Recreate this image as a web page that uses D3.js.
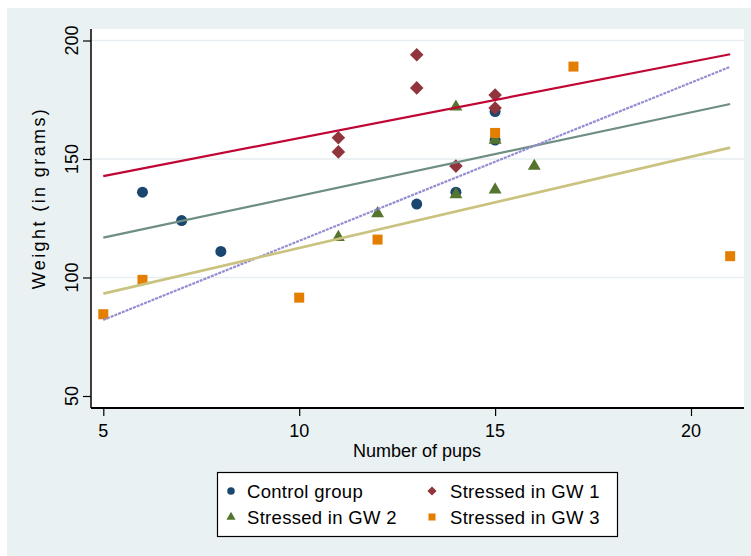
<!DOCTYPE html>
<html>
<head>
<meta charset="utf-8">
<script src="https://cdn.jsdelivr.net/npm/d3@7"></script>
<style>
  html, body { margin: 0; padding: 0; background: #ffffff; }
  svg { display: block; }
  text { font-family: "Liberation Sans", Arial, Helvetica, sans-serif; fill: #000; }
</style>
</head>
<body>
<svg id="chart" width="751" height="556"></svg>
<script>
// Pup weight by litter size, four groups
const controlX = [6, 7, 8, 13, 14, 15, 15];
const controlY = [136, 124, 111, 131, 136, 170, 158];
const gw1X = [11, 11, 13, 13, 14, 15, 15];
const gw1Y = [159, 153, 194, 180, 147, 177, 171.5];
const gw2X = [11, 12, 14, 14, 15, 15, 16];
const gw2Y = [117, 127, 172, 135, 137, 158, 147];
const gw3X = [5, 6, 10, 12, 15, 17, 21];
const gw3Y = [84.5, 99, 91.5, 116, 161, 189, 109];

// Linear fits, drawn over the full range of litter sizes
const fitX = [5, 21];
const controlFit = [116.8, 173.2];
const gw1Fit = [142.8, 194.2];
const gw2Fit = [82.1, 188.9];
const gw3Fit = [93.2, 154.8];

const xTicks = [5, 10, 15, 20];
const yTicks = [50, 100, 150, 200];
const yGrid = [100, 150, 200];
const groupNames = ["Control group", "Stressed in GW 1", "Stressed in GW 2", "Stressed in GW 3"];

const colors = {
  navy: "#1a476f", maroon: "#90353b", forest: "#55752f", orange: "#e37e00",
  teal: "#6e8e84", cranberry: "#c10534", lavender: "#938dd2", khaki: "#cac27e"
};

const svg = d3.select("#chart");

// Outer graph region
svg.append("rect").attr("x", 7).attr("y", 8).attr("width", 744).attr("height", 548)
  .attr("fill", "#eaf1f3");

const plot = { left: 91, right: 744, top: 29, bottom: 408 };
svg.append("rect").attr("x", plot.left).attr("y", plot.top)
  .attr("width", plot.right - plot.left).attr("height", plot.bottom - plot.top)
  .attr("fill", "#ffffff");

const x = d3.scaleLinear().domain([5, 20]).range([103.3, 691]);
const y = d3.scaleLinear().domain([50, 200]).range([396, 40.5]);

// Grid lines
svg.append("g").selectAll("line").data(yGrid).join("line")
  .attr("x1", plot.left).attr("x2", plot.right)
  .attr("y1", d => y(d)).attr("y2", d => y(d))
  .attr("stroke", "#e6eef1").attr("stroke-width", 1.5);

// Axes
const yAxis = svg.append("g").attr("transform", `translate(${plot.left},0)`)
  .call(d3.axisLeft(y).tickValues(yTicks).tickSize(8).tickFormat(""));
yAxis.select(".domain").attr("d", `M0,${plot.top}V${plot.bottom}`).attr("stroke-width", 1.5);
yAxis.selectAll(".tick line").attr("stroke-width", 1.2);

const xAxis = svg.append("g").attr("transform", `translate(0,${plot.bottom})`)
  .call(d3.axisBottom(x).tickValues(xTicks).tickSize(8).tickFormat(""));
xAxis.select(".domain").attr("d", `M${plot.left},0H${plot.right}`).attr("stroke-width", 1.8);
xAxis.selectAll(".tick line").attr("stroke-width", 1.2);

// Tick labels
svg.append("g").selectAll("text").data(yTicks).join("text")
  .attr("transform", d => `translate(78,${y(d)}) rotate(-90)`)
  .attr("text-anchor", "middle").attr("font-size", 18)
  .text(d => d);

svg.append("g").selectAll("text").data(xTicks).join("text")
  .attr("x", d => x(d)).attr("y", 437)
  .attr("text-anchor", "middle").attr("font-size", 18)
  .text(d => d);

// Axis titles
svg.append("text").attr("x", 417).attr("y", 457)
  .attr("text-anchor", "middle").attr("font-size", 18)
  .text("Number of pups");

svg.append("text").attr("transform", "translate(45,198) rotate(-90)")
  .attr("text-anchor", "middle").attr("font-size", 18)
  .attr("letter-spacing", "2.4px")
  .text("Weight (in grams)");

// Marker shapes; the diamond is a square turned 45 degrees
function marker(kind, size) {
  const types = { circle: d3.symbolCircle, diamond: d3.symbolSquare,
                  triangle: d3.symbolTriangle, square: d3.symbolSquare };
  return { d: d3.symbol().type(types[kind]).size(size)(), rot: kind === "diamond" ? 45 : 0 };
}

function zip(xs, ys) { return xs.map((v, i) => [v, ys[i]]); }

const series = [
  { xs: controlX, ys: controlY, m: marker("circle", 95), color: colors.navy },
  { xs: gw1X, ys: gw1Y, m: marker("diamond", 92), color: colors.maroon },
  { xs: gw2X, ys: gw2Y, m: marker("triangle", 72), color: colors.forest },
  { xs: gw3X, ys: gw3Y, m: marker("square", 100), color: colors.orange }
];

series.forEach(s => {
  svg.append("g").selectAll("path").data(zip(s.xs, s.ys)).join("path")
    .attr("transform", d => `translate(${x(d[0])},${y(d[1])}) rotate(${s.m.rot})`)
    .attr("d", s.m.d)
    .attr("fill", s.color);
});

// Fit lines on top of markers
const line = d3.line().x(d => x(d[0])).y(d => y(d[1]));
const fits = [
  { vals: controlFit, color: colors.teal, width: 2.2, dash: null },
  { vals: gw1Fit, color: colors.cranberry, width: 2.2, dash: null },
  { vals: gw2Fit, color: colors.lavender, width: 2.2, dash: "3,1" },
  { vals: gw3Fit, color: colors.khaki, width: 2.6, dash: null }
];
fits.forEach(f => {
  svg.append("path").datum(zip(fitX, f.vals))
    .attr("d", line).attr("fill", "none")
    .attr("stroke", f.color).attr("stroke-width", f.width)
    .attr("stroke-dasharray", f.dash);
});

// Legend
const legend = svg.append("g");
legend.append("rect").attr("x", 217.5).attr("y", 472.5).attr("width", 400).attr("height", 64)
  .attr("fill", "#ffffff").attr("stroke", "#000").attr("stroke-width", 1.2);

const legendItems = [
  { name: groupNames[0], m: marker("circle", 45), color: colors.navy, mx: 231, tx: 247, yy: 491 },
  { name: groupNames[1], m: marker("diamond", 42), color: colors.maroon, mx: 432, tx: 450, yy: 491 },
  { name: groupNames[2], m: marker("triangle", 36), color: colors.forest, mx: 231, tx: 247, yy: 517 },
  { name: groupNames[3], m: marker("square", 50), color: colors.orange, mx: 432, tx: 450, yy: 517 }
];
legendItems.forEach(it => {
  legend.append("path").attr("transform", `translate(${it.mx},${it.yy}) rotate(${it.m.rot})`)
    .attr("d", it.m.d).attr("fill", it.color);
  legend.append("text").attr("x", it.tx).attr("y", it.yy + 6.5)
    .attr("font-size", 18.5).attr("letter-spacing", "0.3px").text(it.name);
});
</script>
</body>
</html>
